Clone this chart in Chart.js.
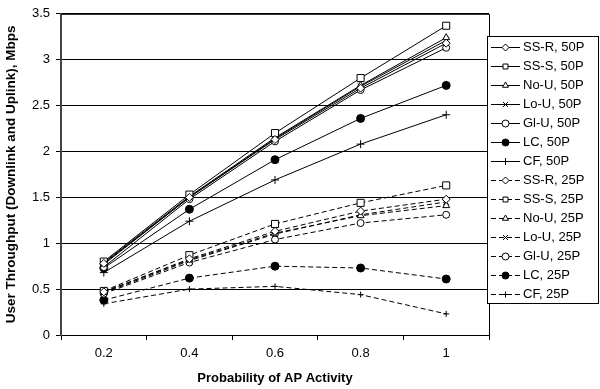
<!DOCTYPE html>
<html>
<head>
<meta charset="utf-8">
<script src="https://cdn.jsdelivr.net/npm/chart.js@4.4.1/dist/chart.umd.min.js"></script>
<style>
html,body{margin:0;padding:0;background:#fff;}
#wrap{width:600px;height:389px;}
</style>
</head>
<body>
<div id="wrap"><canvas id="c" width="600" height="389"></canvas></div>
<script>
const categories = ['0.2', '0.4', '0.6', '0.8', '1'];
const seriesNames = ['SS-R, 50P','SS-S, 50P','No-U, 50P','Lo-U, 50P','Gl-U, 50P','LC, 50P','CF, 50P',
                     'SS-R, 25P','SS-S, 25P','No-U, 25P','Lo-U, 25P','Gl-U, 25P','LC, 25P','CF, 25P'];
const ssr50 = [0.78, 1.50, 2.13, 2.69, 3.18];
const sss50 = [0.80, 1.53, 2.20, 2.80, 3.37];
const nou50 = [0.79, 1.51, 2.15, 2.72, 3.24];
const lou50 = [0.77, 1.50, 2.14, 2.71, 3.21];
const glu50 = [0.74, 1.48, 2.11, 2.67, 3.13];
const lc50  = [0.73, 1.37, 1.91, 2.36, 2.72];
const cf50  = [0.68, 1.24, 1.69, 2.08, 2.40];
const ssr25 = [0.47, 0.83, 1.13, 1.35, 1.48];
const sss25 = [0.48, 0.87, 1.21, 1.44, 1.63];
const nou25 = [0.47, 0.82, 1.11, 1.30, 1.41];
const lou25 = [0.46, 0.81, 1.10, 1.31, 1.45];
const glu25 = [0.45, 0.79, 1.04, 1.22, 1.31];
const lc25  = [0.38, 0.62, 0.75, 0.73, 0.61];
const cf25  = [0.34, 0.50, 0.53, 0.44, 0.23];
const yTicks = [0, 0.5, 1, 1.5, 2, 2.5, 3, 3.5];
const yTickLabels = ['0', '0.5', '1', '1.5', '2', '2.5', '3', '3.5'];

const values = [ssr50, sss50, nou50, lou50, glu50, lc50, cf50, ssr25, sss25, nou25, lou25, glu25, lc25, cf25];
const markers = [
  {s:'rectRot', r:4, fill:'#fff'},
  {s:'rect', r:5, fill:'#fff'},
  {s:'triangle', r:4, fill:'#fff'},
  {s:'crossRot', r:4, fill:'#fff'},
  {s:'circle', r:3.5, fill:'#fff'},
  {s:'circle', r:4, fill:'#000'},
  {s:'cross', r:4, fill:'#fff'}
];
const datasets = values.map((v, i) => {
  const m = markers[i % 7];
  const dashed = i >= 7;
  return {
    label: seriesNames[i],
    data: v,
    borderColor: '#000',
    borderWidth: 1,
    borderDash: dashed ? [5, 3] : [],
    pointStyle: m.s,
    pointRadius: (dashed && m.s === 'cross') ? 3 : m.r,
    pointBackgroundColor: m.fill,
    pointBorderColor: '#000',
    pointBorderWidth: 1,
    fill: false,
    tension: 0
  };
});

const FONT = 'Liberation Sans, Arial, Helvetica, sans-serif';

const framePlugin = {
  id: 'frame',
  beforeDatasetsDraw(chart) {
    const a = chart.chartArea, ctx = chart.ctx;
    ctx.save();
    ctx.strokeStyle = '#000';
    ctx.lineWidth = 1;
    ctx.beginPath();
    ctx.moveTo(a.left, a.top + 0.5);
    ctx.lineTo(Math.round(a.right) + 0.5, a.top + 0.5);
    ctx.lineTo(Math.round(a.right) + 0.5, a.bottom + 3);
    ctx.stroke();
    ctx.restore();
  }
};

const legendPlugin = {
  id: 'customLegend',
  afterDraw(chart) {
    const ctx = chart.ctx;
    const bx = 487, by = 36, bw = 111, bh = 267;
    ctx.save();
    ctx.fillStyle = '#fff';
    ctx.fillRect(bx, by, bw, bh);
    ctx.strokeStyle = '#000';
    ctx.lineWidth = 1;
    ctx.strokeRect(bx + 0.5, by + 0.5, bw, bh);
    const y0 = 46.5, dy = 19;
    chart.data.datasets.forEach((ds, i) => {
      const y = Math.round(y0 + i * dy) + 0.5;
      ctx.strokeStyle = '#000';
      ctx.lineWidth = 1;
      ctx.setLineDash(ds.borderDash.length ? [5, 3] : []);
      ctx.beginPath();
      ctx.moveTo(491, y);
      ctx.lineTo(520, y);
      ctx.stroke();
      ctx.setLineDash([]);
      ctx.fillStyle = ds.pointBackgroundColor;
      ctx.strokeStyle = '#000';
      const r = Math.min(ds.pointRadius, 3.5);
      Chart.helpers.drawPoint(ctx, {pointStyle: ds.pointStyle, radius: r, rotation: 0, borderWidth: 1}, 505.5, y);
      ctx.fillStyle = '#000';
      ctx.font = '13px ' + FONT;
      ctx.textBaseline = 'middle';
      ctx.textAlign = 'left';
      ctx.fillText(ds.label, 523, y);
    });
    ctx.restore();
  }
};

new Chart(document.getElementById('c'), {
  type: 'line',
  data: { labels: categories, datasets: datasets },
  options: {
    responsive: false,
    animation: false,
    devicePixelRatio: 1,
    layout: { padding: { top: 7, right: 111, left: 0, bottom: 0 } },
    plugins: { legend: { display: false }, tooltip: { enabled: false } },
    scales: {
      x: {
        type: 'category',
        offset: true,
        grid: { offset: true, drawOnChartArea: false, drawTicks: true, tickLength: 5, color: '#000' },
        border: { display: true, color: '#000', width: 1 },
        ticks: { color: '#000', font: { family: FONT, size: 13 }, padding: 6, maxRotation: 0 },
        title: { display: true, text: 'Probability of AP Activity', color: '#000', font: { family: FONT, size: 13, weight: 'bold' }, padding: { top: 2, bottom: 3 } },
        afterFit(s) { s.height = 54; }
      },
      y: {
        min: 0, max: 3.5,
        afterBuildTicks(s) { s.ticks = yTicks.map(v => ({ value: v })); },
        grid: { color: '#000', lineWidth: 1, tickLength: 5, drawTicks: true },
        border: { display: true, color: '#444', width: 2 },
        ticks: {
          color: '#000', font: { family: FONT, size: 13 }, padding: 6,
          callback(value) { const k = yTicks.indexOf(value); return k >= 0 ? yTickLabels[k] : String(value); }
        },
        title: { display: true, text: 'User Throughput (Downlink and Uplink), Mbps', color: '#000', font: { family: FONT, size: 13.5, weight: 'bold' }, padding: { top: 3, bottom: 2 } },
        afterFit(s) { s.width = 61; }
      }
    }
  },
  plugins: [framePlugin, legendPlugin]
});
</script>
</body>
</html>
